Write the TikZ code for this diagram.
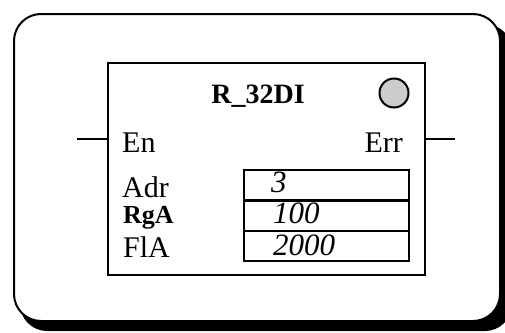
\documentclass[tikz,border=0pt]{standalone}
\usepackage{fontspec}
\setmainfont{Liberation Serif}
\begin{document}
\begin{tikzpicture}[x=1pt,y=-1pt,
  lbl/.style={font=\fontsize{30}{31}\selectfont, inner sep=0pt, anchor=base west},
  val/.style={font=\fontsize{31}{32}\selectfont\itshape, inner sep=0pt, anchor=base west},
  valbox/.style={draw, line width=2.4pt, minimum width=165pt, minimum height=30.5pt, inner sep=0pt, anchor=north west},
  wire/.style={line width=1.8pt}]
\useasboundingbox (0,0) rectangle (505,332);
% shadow and frame
\fill[black, rounded corners=27pt] (20,24) rectangle (512,331);
\draw[line width=2pt, fill=white, rounded corners=27pt] (14,14) rectangle (500,321);
% block
\node[draw, line width=2pt, minimum width=317pt, minimum height=212pt, inner sep=0pt, anchor=north west] (blk) at (107,62) {};
\node[font=\fontsize{28}{29}\selectfont\bfseries, inner sep=0pt, anchor=base] (title) at (258,103) {R\_32DI};
\node[circle, draw, line width=2pt, fill=black!20, minimum size=29pt, inner sep=0pt] (led) at (394,93) {};
% wires
\coordinate (enL) at (77,139);
\coordinate (enR) at (107,139);
\coordinate (erL) at (424,139);
\coordinate (erR) at (455,139);
\draw[wire] (enL) -- (enR);
\draw[wire] (erL) -- (erR);
\node[lbl] (en) at (122,152) {En};
\node[lbl, anchor=base east] (err) at (403,152) {Err};
% parameters
\node[lbl] (adr) at (122,197) {Adr};
\node[lbl, font=\fontsize{26}{27}\selectfont\bfseries] (rga) at (123,223) {RgA};
\node[lbl] (fla) at (123,257) {FlA};
\node[valbox] (b1) at (243,169) {};
\node[valbox] (b2) at (243,199) {};
\node[valbox] (b3) at (243,229.5) {};
\node[val] (v1) at (271,192) {3};
\node[val] (v2) at (273,223) {100};
\node[val] (v3) at (273,255) {2000};
\end{tikzpicture}
\end{document}
